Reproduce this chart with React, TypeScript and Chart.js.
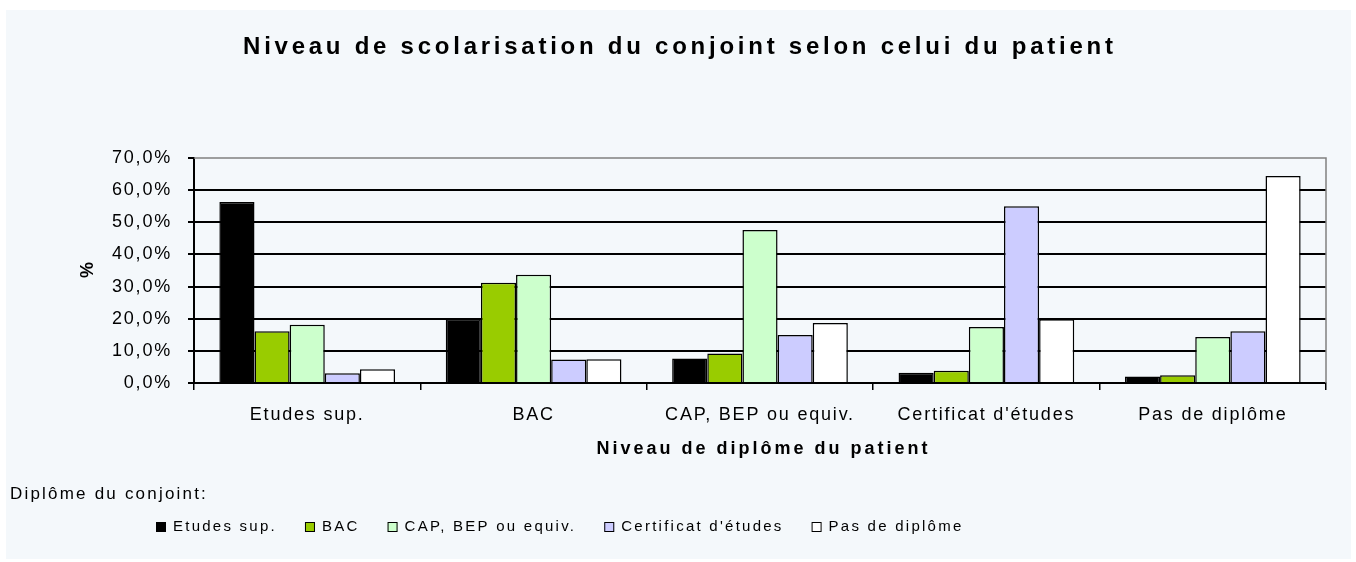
import React, { useEffect, useRef } from "react";
import { Chart, registerables } from "chart.js";

Chart.register(...registerables);

// ---- Data ----
const categories = ["Etudes sup.", "BAC", "CAP, BEP ou equiv.", "Certificat d'études", "Pas de diplôme"];
const seriesLabels = ["Etudes sup.", "BAC", "CAP, BEP ou equiv.", "Certificat d'études", "Pas de diplôme"];
const etudesSup = [56.3, 19.8, 7.6, 3.2, 2.0];
const bac = [16.1, 31.2, 9.2, 3.8, 2.4];
const capBep = [18.1, 33.7, 47.6, 17.4, 14.3];
const certificat = [3.0, 7.3, 14.9, 55.0, 16.1];
const pasDiplome = [4.3, 7.4, 18.7, 19.8, 64.4];
const seriesColors = ["#000000", "#99CC00", "#CCFFCC", "#CCCCFF", "#FFFFFF"];
const yMin = 0;
const yMax = 70;
const yStep = 10;

const chartTitle = "Niveau de scolarisation du conjoint selon celui du patient";
const xTitle = "Niveau de diplôme du patient";
const yTitle = "%";
const legendTitle = "Diplôme du conjoint:";

const FONT = 'Arial, "Liberation Sans", sans-serif';
const W = 1356;
const H = 562;
const PANEL = "#f4f8fb";

function drawText(
  ctx: CanvasRenderingContext2D,
  text: string,
  x: number,
  y: number,
  font: string,
  spacing: number,
  align: "left" | "center" | "right"
) {
  ctx.save();
  ctx.font = font;
  (ctx as any).letterSpacing = spacing + "px";
  ctx.fillStyle = "#000";
  ctx.textBaseline = "middle";
  ctx.textAlign = "left";
  const w = ctx.measureText(text).width - spacing;
  let sx = x;
  if (align === "center") sx = x - w / 2;
  else if (align === "right") sx = x - w;
  ctx.fillText(text, sx, y);
  ctx.restore();
  return w + spacing;
}

const decorPlugin = {
  id: "decor",
  beforeDraw(chart: any) {
    const ctx = chart.ctx as CanvasRenderingContext2D;
    ctx.save();
    ctx.fillStyle = PANEL;
    ctx.fillRect(6, 10, 1345, 549);
    ctx.restore();
    (ctx as any).letterSpacing = "1.8px";
  },
  afterDraw(chart: any) {
    const ctx = chart.ctx as CanvasRenderingContext2D;
    (ctx as any).letterSpacing = "0px";
    const a = chart.chartArea;
    // gray plot border (top and right)
    ctx.save();
    ctx.strokeStyle = "#808080";
    ctx.lineWidth = 1.5;
    ctx.beginPath();
    ctx.moveTo(a.left, a.top);
    ctx.lineTo(a.right, a.top);
    ctx.lineTo(a.right, a.bottom);
    ctx.stroke();
    ctx.restore();

    // title
    drawText(ctx, chartTitle, W / 2, 47, "bold 24px " + FONT, 3.75, "center");
    // x title
    drawText(ctx, xTitle, (a.left + a.right) / 2 + 2, 449, "bold 18px " + FONT, 3.0, "center");
    // y title rotated
    ctx.save();
    ctx.translate(88, 270);
    ctx.rotate(-Math.PI / 2);
    drawText(ctx, yTitle, 0, 0, "bold 18px " + FONT, 0, "center");
    ctx.restore();
    // legend title
    drawText(ctx, legendTitle, 10, 494, "17px " + FONT, 2.2, "left");
    // legend items
    let x = 156;
    const ly = 527;
    chart.data.datasets.forEach((ds: any) => {
      ctx.save();
      ctx.fillStyle = ds.backgroundColor;
      ctx.fillRect(x, ly - 5, 10, 10);
      ctx.strokeStyle = "#000";
      ctx.lineWidth = 1;
      ctx.strokeRect(x + 0.5, ly - 4.5, 9, 9);
      ctx.restore();
      const tw = drawText(ctx, ds.label, x + 17, ly, "15px " + FONT, 2.25, "left");
      x += 17 + tw + 28;
    });
  },
};

export default function App() {
  const ref = useRef<HTMLCanvasElement | null>(null);
  useEffect(() => {
    if (!ref.current) return;
    const seriesValues = [etudesSup, bac, capBep, certificat, pasDiplome];
    const chart = new Chart(ref.current, {
      type: "bar",
      data: {
        labels: categories,
        datasets: seriesLabels.map((label, i) => ({
          label,
          data: seriesValues[i],
          backgroundColor: seriesColors[i],
          borderColor: "#000000",
          borderWidth: 1.5,
          categoryPercentage: 0.776,
          barPercentage: 1,
        })),
      },
      options: {
        responsive: false,
        animation: false,
        devicePixelRatio: 1,
        layout: { padding: { left: 0, right: 30, top: 158, bottom: 0 } },
        plugins: {
          legend: { display: false },
          title: { display: false },
          tooltip: { enabled: false },
        },
        scales: {
          x: {
            offset: true,
            grid: {
              display: true,
              offset: true,
              drawOnChartArea: false,
              drawTicks: true,
              tickLength: 7,
              color: "#000",
              lineWidth: 1.5,
            },
            border: { display: true, color: "#000", width: 2 },
            ticks: {
              color: "#000",
              font: { family: FONT, size: 18 },
              padding: 14,
              maxRotation: 0,
              autoSkip: false,
            },
            afterFit: (s: any) => {
              s.height = 179;
            },
          },
          y: {
            min: yMin,
            max: yMax,
            ticks: {
              stepSize: yStep,
              color: "#000",
              font: { family: FONT, size: 18 },
              padding: 16,
              callback: (v: any) => Number(v).toFixed(1).replace(".", ",") + "%",
            },
            grid: {
              color: (c: any) => (c.tick && c.tick.value === yMax ? "rgba(0,0,0,0)" : "#000"),
              lineWidth: 2,
              tickLength: 6,
              tickColor: "#000",
              drawTicks: true,
            },
            border: { display: true, color: "#000", width: 2 },
            afterFit: (s: any) => {
              s.width = 194;
            },
          },
        },
      },
      plugins: [decorPlugin],
    } as any);
    return () => chart.destroy();
  }, []);
  return (
    <div style={{ position: "absolute", left: 0, top: 0, width: W, height: H }}>
      <canvas ref={ref} width={W} height={H} style={{ width: W, height: H, display: "block" }} />
    </div>
  );
}
